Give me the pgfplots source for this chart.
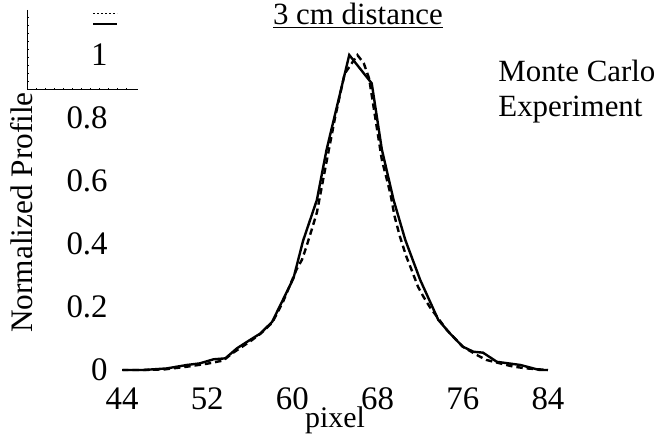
\documentclass[border=0pt]{standalone}
\usepackage{fontspec}
\setmainfont{Liberation Serif}
\usepackage{pgfplots}
\pgfplotsset{compat=1.18}

\begin{document}
\begin{tikzpicture}
\path[use as bounding box] (0,0) rectangle (327bp,219bp);

% stray legend frame in the top left corner of the scan
\begin{scope}[line width=0.5bp]
  \draw (13.5bp,214bp) -- (13.5bp,174bp) -- (69bp,174bp);
  \foreach \y in {178,182,...,212} \draw (13.5bp,\y bp) -- +(1.2bp,0);
  \foreach \x in {18,22.5,...,67} \draw (\x bp,174bp) -- +(0,1.2bp);
  \draw[dash pattern=on 1.2bp off 0.8bp] (46.5bp,212bp) -- (58.5bp,212bp);
  \draw[line width=0.8bp] (46.5bp,207bp) -- (58.5bp,207bp);
\end{scope}

\begin{axis}[
    at={(61bp,34bp)}, anchor=south west,
    scale only axis,
    width=213bp, height=157.5bp,
    xmin=44, xmax=84, ymin=0, ymax=1,
    clip=false,
    axis line style={draw=none},
    tick style={draw=none},
    xtick={44,52,60,68,76,84},
    ytick={0,0.2,0.4,0.6,0.8,1},
    yticklabels={0,0.2,0.4,0.6,0.8,1},
    /pgf/number format/assume math mode=true,
    ticklabel style={font=\fontsize{16.5}{19}\selectfont},
    xticklabel style={anchor=north, inner sep=0pt, yshift=-8.5bp},
    yticklabel style={anchor=east, inner sep=0pt, xshift=-7bp},
    xlabel={pixel},
    xlabel style={font=\fontsize{15}{17}\selectfont,
        at={(axis description cs:0.5,-0.181)}, anchor=base},
    ylabel={Normalized Profile},
    ylabel style={font=\fontsize{15.7}{18}\selectfont,
        at={(axis description cs:-0.209,0.5)}, anchor=base},
    title={\underline{3 cm distance}},
    title style={font=\fontsize{15.5}{18}\selectfont,
        at={(axis description cs:0.554,1.060)}, anchor=base},
]
% Monte Carlo
\addplot[black, line width=1.2bp, dash pattern=on 3.2bp off 2bp] coordinates {
  (44,0) (46,0) (48,0.002) (50,0.01) (52,0.02) (53.5,0.03) (54.4,0.054)
  (56,0.09) (57,0.115) (58.1,0.15) (59.1,0.215) (60.4,0.32) (60.9,0.35)
  (61.3,0.39) (61.8,0.444) (62.3,0.50) (63.2,0.66) (64.0,0.80) (64.9,0.94)
  (66.1,1.0) (66.7,0.974) (67.2,0.926) (68.4,0.667) (69.2,0.56) (69.6,0.487)
  (70.1,0.423) (70.7,0.36) (71.2,0.317) (71.8,0.264) (72.3,0.233) (72.9,0.2)
  (74.5,0.127) (76.0,0.074) (77.3,0.048) (78.2,0.032) (80.7,0.011) (82,0.005)
  (84,0)
};
% Experiment
\addplot[black, line width=1.2bp] coordinates {
  (44.1,0) (46,0) (48.2,0.005) (50.1,0.016) (51.3,0.021) (52.6,0.034)
  (53.7,0.037) (54.8,0.069) (56,0.095) (57,0.116) (58.1,0.153) (59.1,0.222)
  (60.1,0.291) (61,0.41) (62.3,0.54) (63.2,0.698) (65.34,1.0) (67.45,0.91)
  (68.4,0.70) (69.5,0.54) (70.6,0.413) (72,0.286) (73.7,0.159) (74.8,0.116)
  (76,0.074) (77,0.058) (77.9,0.055) (79.2,0.026) (81.4,0.016) (83.2,0)
  (84,0)
};
\end{axis}

\node[anchor=base west, inner sep=0pt, font=\fontsize{15.5}{18}\selectfont]
  at (249bp,178bp) {Monte Carlo};
\node[anchor=base west, inner sep=0pt, font=\fontsize{15.5}{18}\selectfont]
  at (249bp,160.5bp) {Experiment};
\end{tikzpicture}
\end{document}
